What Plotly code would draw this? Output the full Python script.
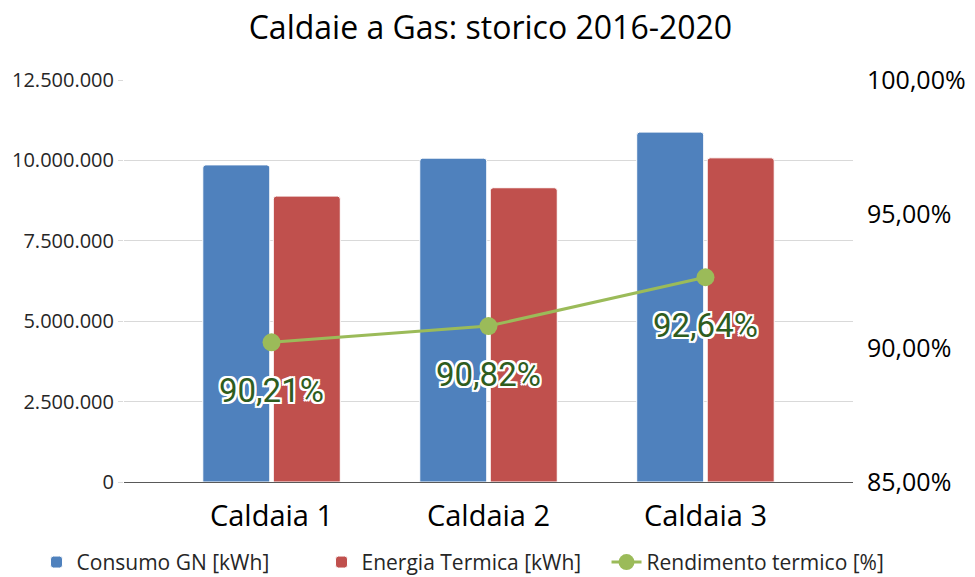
import plotly.graph_objects as go

categories = ["Caldaia 1", "Caldaia 2", "Caldaia 3"]
consumo_gn = [9860000, 10070000, 10880000]
energia_termica = [8890000, 9150000, 10080000]
rendimento = [0.9021, 0.9082, 0.9264]
rendimento_labels = ["90,21%", "90,82%", "92,64%"]

BLUE = "#4F81BD"
RED = "#C0504D"
GREEN = "#9BBB59"
LABEL_GREEN = "#2F5D1E"
FONT = "Open Sans"

fig = go.Figure()
fig.add_trace(go.Bar(
    x=categories, y=consumo_gn, name="Consumo GN [kWh]",
    marker=dict(color=BLUE, line=dict(color="white", width=1), cornerradius=3),
))
fig.add_trace(go.Bar(
    x=categories, y=energia_termica, name="Energia Termica [kWh]",
    marker=dict(color=RED, line=dict(color="white", width=1), cornerradius=3),
))
fig.add_trace(go.Scatter(
    x=categories, y=rendimento, name="Rendimento termico [%]", yaxis="y2",
    mode="lines+markers",
    line=dict(color=GREEN, width=3),
    marker=dict(color=GREEN, size=18),
))

shadow = ", ".join(
    f"white {dx}px {dy}px 0px" for dx, dy in
    [(2, 0), (-2, 0), (0, 2), (0, -2), (2, 2), (-2, -2), (2, -2), (-2, 2)]
)
annotations = []
for c, v, t in zip(categories, rendimento, rendimento_labels):
    annotations.append(dict(
        x=c, y=v, xref="x", yref="y2", text=t, showarrow=False, yshift=-48,
        font=dict(family="Roboto", size=33, color=LABEL_GREEN, shadow=shadow),
    ))

fig.update_layout(
    width=975, height=577,
    paper_bgcolor="white", plot_bgcolor="white",
    separators=",.",
    margin=dict(l=124, r=122, t=80, b=95, autoexpand=False),
    title=dict(text="Caldaie a Gas: storico 2016-2020", x=0.503, xanchor="center",
               y=0.952, yanchor="middle",
               font=dict(family=FONT, size=32, color="#000000")),
    barmode="group", bargap=0.35, bargroupgap=0.05,
    showlegend=True,
    legend=dict(orientation="h",
                x=-0.12, xanchor="left", y=-0.2, yanchor="middle",
                font=dict(family=FONT, size=21, color="#262626"),
                itemwidth=30, traceorder="normal",
                entrywidth=240, entrywidthmode="pixels"),
    xaxis=dict(
        type="category", range=[-0.68, 2.68],
        showline=True, linecolor="#595959", linewidth=1,
        ticks="", ticklabelstandoff=8,
        tickfont=dict(family=FONT, size=29, color="#000000"),
        showgrid=False,
    ),
    yaxis=dict(
        range=[0, 12500000], dtick=2500000, tickformat=",d",
        showgrid=True, gridcolor="#D9D9D9", gridwidth=1,
        zeroline=False,
        ticks="outside", ticklen=5, tickcolor="#D9D9D9",
        tickfont=dict(family=FONT, size=20, color="#262626"),
    ),
    yaxis2=dict(
        overlaying="y", side="right",
        range=[0.85, 1.0], dtick=0.05, tickformat=".2%",
        showgrid=False, zeroline=False,
        ticks="", ticklabelstandoff=13,
        tickfont=dict(family=FONT, size=25, color="#000000"),
    ),
    annotations=annotations,
)

fig.write_html("out.html", config={"displayModeBar": False},
               post_script="document.body.style.margin='0px';")
